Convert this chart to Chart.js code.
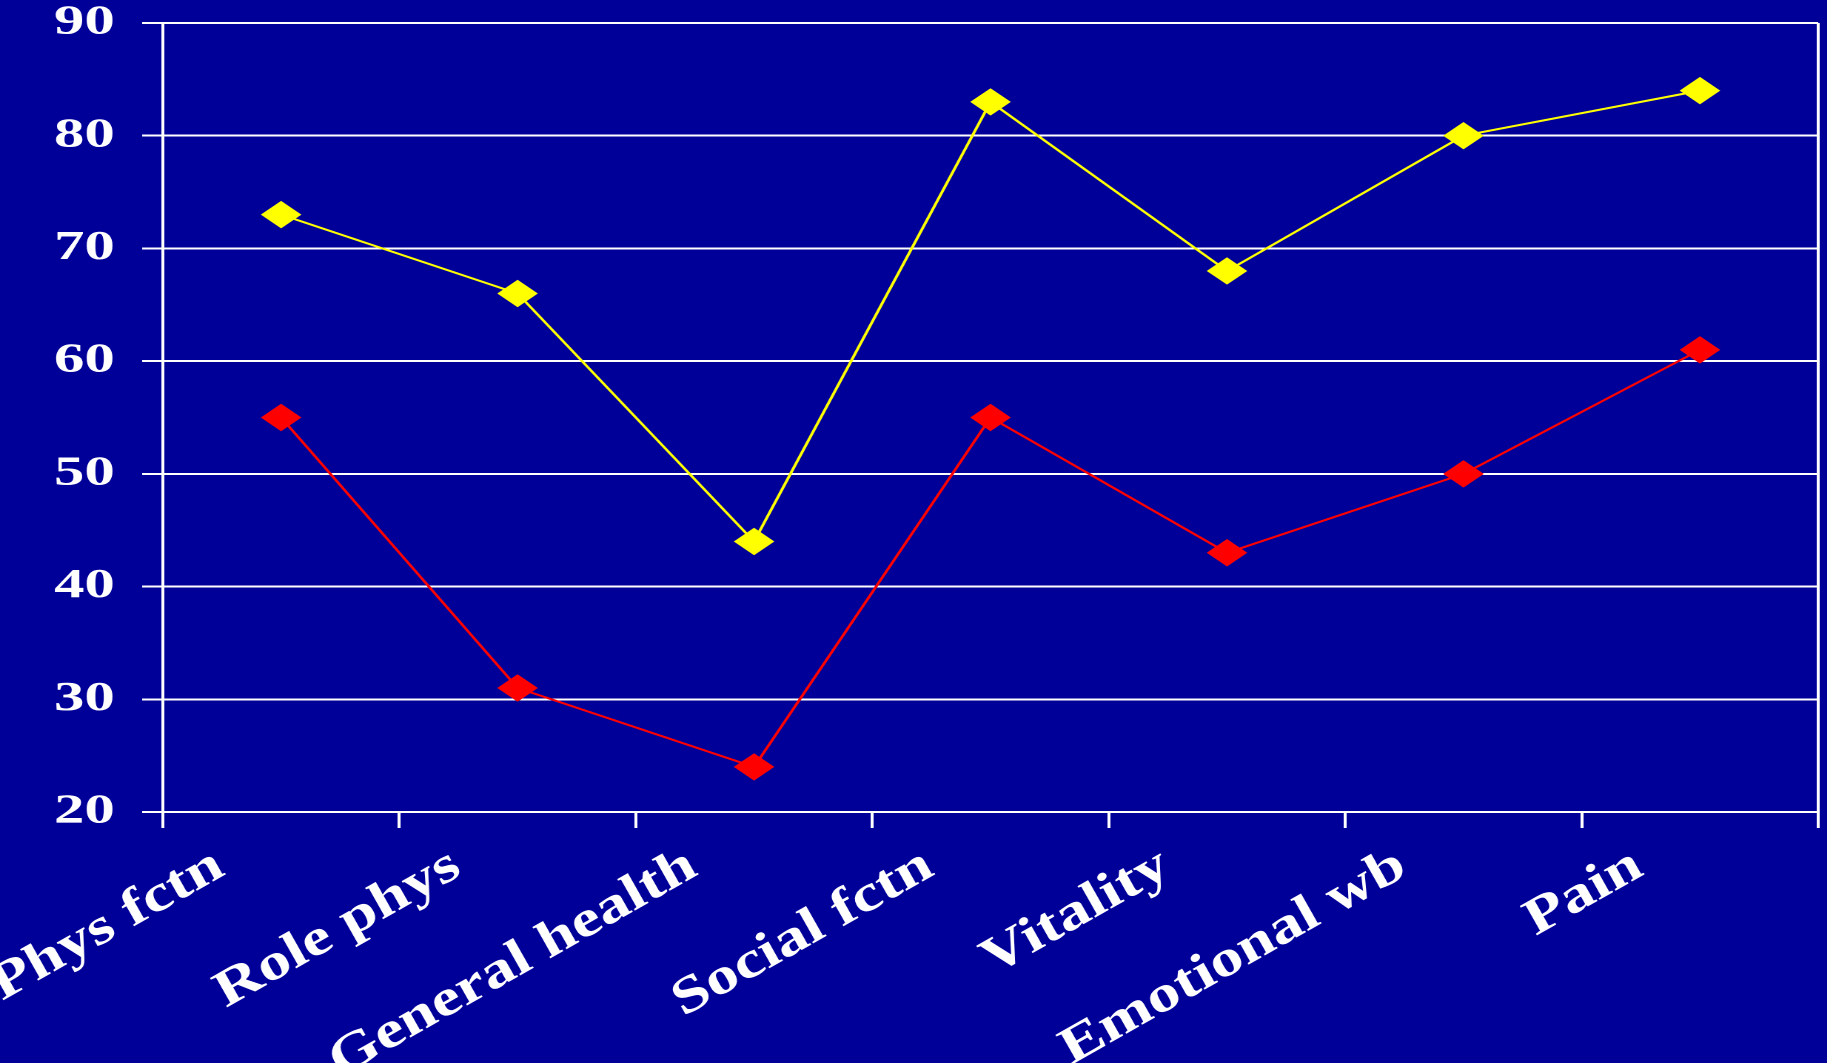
<!DOCTYPE html>
<html><head><meta charset="utf-8">
<script src="https://cdn.jsdelivr.net/npm/chart.js@4/dist/chart.umd.min.js"></script>
<style>
html,body{margin:0;padding:0;background:#000099;overflow:hidden;width:1827px;height:1063px;}
#wrap{position:absolute;left:0;top:0;width:1234px;height:1063px;transform:scaleX(1.4806);transform-origin:0 0;}
</style></head><body>
<div id="wrap"><canvas id="c" width="1234" height="1063"></canvas></div>
<script>
const categories = ['Phys fctn', 'Role phys', 'General health', 'Social fctn', 'Vitality', 'Emotional wb', 'Pain'];
const yellowValues = [73, 66, 44, 83, 68, 80, 84];
const redValues = [55, 31, 24, 55, 43, 50, 61];
const yTickValues = [20, 30, 40, 50, 60, 70, 80, 90];

const SERIF = '"Times New Roman", "Liberation Serif", serif';

// The whole drawing is stretched horizontally by CSS (STRETCH). Rotated category
// labels are drawn with a compensating transform so that on screen they appear
// rotated by LABEL_ANGLE with their glyph stems perpendicular to the baseline.
const STRETCH = 1.4806;
const LABEL_ROTATION = 30;   // rotation Chart.js is told to use
const LABEL_ANGLE = 29.5;    // rotation seen on screen
const LABEL_WIDEN = 1.25;    // horizontal widening of label glyphs on screen

const canvas = document.getElementById('c');
const ctx2d = canvas.getContext('2d');
const nativeRotate = ctx2d.rotate.bind(ctx2d);
ctx2d.rotate = function (a) {
  if (Math.abs(a + LABEL_ROTATION * Math.PI / 180) < 1e-9) {
    const p = LABEL_ANGLE * Math.PI / 180;
    this.transform(LABEL_WIDEN * Math.cos(p) / STRETCH, -LABEL_WIDEN * Math.sin(p),
                   Math.sin(p) / STRETCH, Math.cos(p), 0, 0);
  } else {
    nativeRotate(a);
  }
};

new Chart(canvas, {
  type: 'line',
  data: {
    labels: categories,
    datasets: [
      {
        data: yellowValues,
        borderColor: '#FFFF00',
        backgroundColor: '#FFFF00',
        borderWidth: 2,
        pointStyle: 'rectRot',
        pointRadius: 13,
        pointHoverRadius: 13,
        pointBackgroundColor: '#FFFF00',
        pointBorderColor: '#FFFF00',
        pointBorderWidth: 1,
        tension: 0
      },
      {
        data: redValues,
        borderColor: '#FF0000',
        backgroundColor: '#FF0000',
        borderWidth: 2,
        pointStyle: 'rectRot',
        pointRadius: 13,
        pointHoverRadius: 13,
        pointBackgroundColor: '#FF0000',
        pointBorderColor: '#FF0000',
        pointBorderWidth: 1,
        tension: 0
      }
    ]
  },
  options: {
    responsive: false,
    animation: false,
    devicePixelRatio: 2,
    layout: { autoPadding: false, padding: { top: 23, right: 6, left: 0, bottom: 0 } },
    plugins: { legend: { display: false }, tooltip: { enabled: false } },
    scales: {
      x: {
        type: 'category',
        offset: true,
        grid: {
          offset: true,
          drawOnChartArea: true,
          color: ctx => (ctx.type === 'scale' || ctx.index === 0) ? '#FFFFFF' : 'rgba(0,0,0,0)',
          tickColor: '#FFFFFF',
          lineWidth: 2,
          tickLength: 16
        },
        border: { display: true, color: '#FFFFFF', width: 2 },
        ticks: {
          autoSkip: false,
          minRotation: LABEL_ROTATION,
          maxRotation: LABEL_ROTATION,
          labelOffset: -36,
          padding: 7,
          color: '#FFFFFF',
          font: { family: SERIF, size: 52, weight: 'bold' }
        },
        afterFit: s => { s.height = 251; s.paddingLeft = 0; s.paddingRight = 0; }
      },
      y: {
        min: 20,
        max: 90,
        afterBuildTicks: s => { s.ticks = yTickValues.map(v => ({ value: v })); },
        grid: { color: '#FFFFFF', lineWidth: 2, tickLength: 14 },
        border: { display: true, color: '#FFFFFF', width: 2 },
        ticks: {
          padding: 18.5,
          color: '#FFFFFF',
          font: { family: SERIF, size: 41, weight: 'bold' }
        },
        afterFit: s => { s.width = 110; s.paddingTop = 0; s.paddingBottom = 0; }
      }
    }
  }
});
</script>
</body></html>
